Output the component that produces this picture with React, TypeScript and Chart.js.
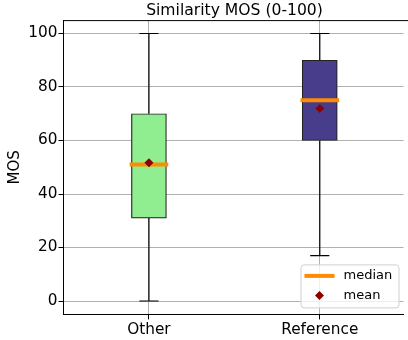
import { useEffect, useRef } from 'react';
import { Chart, registerables } from 'chart.js';
Chart.register(...registerables);

const categories = ['Other', 'Reference'];
const positions = [1, 2];
const whiskerLow = [0, 17];
const q1 = [31, 60];
const medians = [51, 75];
const q3 = [70, 90];
const whiskerHigh = [100, 100];
const means = [51.7, 72];
const yTicks = [0, 20, 40, 60, 80, 100];
const titleText = 'Similarity MOS (0-100)';
const yTitle = 'MOS';
const legendLabels = ['median', 'mean'];

const boxColors = ['#90EE90', '#483D8B'];
const medianColor = '#FF8C00';
const meanColor = '#8B0000';
const FONT = "'DejaVu Sans', sans-serif";

const overlay = {
  id: 'overlay',
  afterDraw(chart: any) {
    const { ctx, chartArea } = chart;
    ctx.save();
    // frame
    ctx.strokeStyle = '#000';
    ctx.lineWidth = 1;
    ctx.beginPath();
    ctx.moveTo(chartArea.left, chartArea.top + 0.5);
    ctx.lineTo(chartArea.right + 5, chartArea.top + 0.5);
    ctx.stroke();
    // title
    ctx.fillStyle = '#000';
    ctx.font = `15.6px ${FONT}`;
    ctx.textAlign = 'center';
    ctx.textBaseline = 'middle';
    ctx.fillText(titleText, (chartArea.left + chartArea.right) / 2 + 1, 10.5);
    // y title
    ctx.save();
    ctx.translate(15, (chartArea.top + chartArea.bottom) / 2);
    ctx.rotate(-Math.PI / 2);
    ctx.font = `15px ${FONT}`;
    ctx.fillText(yTitle, 0, 0);
    ctx.restore();
    // legend
    const lx = chartArea.right - 103;
    const ly = chartArea.bottom - 50;
    const lw = 98;
    const lh = 43;
    ctx.beginPath();
    if (ctx.roundRect) ctx.roundRect(lx + 0.5, ly + 0.5, lw, lh, 3);
    else ctx.rect(lx + 0.5, ly + 0.5, lw, lh);
    ctx.fillStyle = 'rgba(255,255,255,0.8)';
    ctx.fill();
    ctx.strokeStyle = '#d0d0d0';
    ctx.lineWidth = 1;
    ctx.stroke();
    ctx.strokeStyle = medianColor;
    ctx.lineWidth = 4;
    ctx.beginPath();
    ctx.moveTo(lx + 4, ly + 11.5);
    ctx.lineTo(lx + 34, ly + 11.5);
    ctx.stroke();
    ctx.fillStyle = meanColor;
    const dx = lx + 19;
    const dy = ly + 31;
    ctx.beginPath();
    ctx.moveTo(dx, dy - 4.5);
    ctx.lineTo(dx + 4.5, dy);
    ctx.lineTo(dx, dy + 4.5);
    ctx.lineTo(dx - 4.5, dy);
    ctx.closePath();
    ctx.fill();
    ctx.fillStyle = '#000';
    ctx.font = `13px ${FONT}`;
    ctx.textAlign = 'left';
    ctx.textBaseline = 'middle';
    ctx.fillText(legendLabels[0], lx + 43, ly + 11.5);
    ctx.fillText(legendLabels[1], lx + 43, ly + 31);
    ctx.restore();
  },
};

export default function App() {
  const ref = useRef<HTMLCanvasElement>(null);
  useEffect(() => {
    document.body.style.margin = '0';
    const seg = (x1: number, y1: number, x2: number, y2: number, color: string, width: number, order: number) => ({
      type: 'line',
      data: [
        { x: x1, y: y1 },
        { x: x2, y: y2 },
      ],
      borderColor: color,
      borderWidth: width,
      pointRadius: 0,
      borderCapStyle: 'butt',
      fill: false,
      order,
    });
    const datasets: any[] = [
      {
        type: 'bar',
        data: positions.map((x, i) => ({ x, y: [q1[i], q3[i]] })),
        backgroundColor: boxColors,
        borderColor: '#222',
        borderWidth: 1.2,
        borderSkipped: false,
        barThickness: 35,
        order: 5,
      },
      ...positions.flatMap((x, i) => [
        seg(x, whiskerLow[i], x, q1[i], '#000', 1.2, 4),
        seg(x, q3[i], x, whiskerHigh[i], '#000', 1.2, 4),
        seg(x - 0.056, whiskerLow[i], x + 0.056, whiskerLow[i], '#000', 1.2, 4),
        seg(x - 0.056, whiskerHigh[i], x + 0.056, whiskerHigh[i], '#000', 1.2, 4),
        seg(x - 0.113, medians[i], x + 0.113, medians[i], medianColor, 4, 1),
      ]),
      {
        type: 'scatter',
        data: positions.map((x, i) => ({ x, y: means[i] })),
        pointStyle: 'rectRot',
        pointRadius: 4.5,
        backgroundColor: meanColor,
        borderColor: meanColor,
        borderWidth: 0,
        order: 0,
      },
    ];
    const chart = new Chart(ref.current!, {
      type: 'bar',
      data: { datasets },
      options: {
        animation: false,
        responsive: false,
        maintainAspectRatio: false,
        layout: { padding: { top: 20.1, right: 0, left: 0, bottom: 0 } },
        plugins: { legend: { display: false }, tooltip: { enabled: false }, title: { display: false } },
        scales: {
          x: {
            type: 'linear',
            min: 0.5,
            max: 2.49,
            offset: false,
            afterBuildTicks: (s: any) => {
              s.ticks = positions.map((v) => ({ value: v }));
            },
            afterFit: (s: any) => {
              s.height = 25.6;
            },
            ticks: {
              callback: (v: any) => {
                const i = positions.indexOf(Number(v));
                return i >= 0 ? categories[i] : '';
              },
              font: { family: FONT, size: 15.3 },
              color: '#000',
              padding: 1,
              maxRotation: 0,
              autoSkip: false,
            },
            grid: { offset: false, color: '#b0b0b0', lineWidth: 1, tickLength: 5, tickColor: '#000', drawTicks: true },
            border: { display: true, color: '#000', width: 1 },
          },
          y: {
            type: 'linear',
            min: -5,
            max: 105,
            afterBuildTicks: (s: any) => {
              s.ticks = yTicks.map((v) => ({ value: v }));
            },
            afterFit: (s: any) => {
              s.width = 63.5;
            },
            ticks: {
              font: { family: FONT, size: 15.3 },
              color: '#000',
              padding: 1,
            },
            grid: { color: '#b0b0b0', lineWidth: 1, tickLength: 5, tickColor: '#000', drawTicks: true },
            border: { display: true, color: '#000', width: 1 },
          },
        },
      } as any,
      plugins: [overlay],
    } as any);
    return () => chart.destroy();
  }, []);
  return (
    <div style={{ position: 'fixed', left: 0, top: 0, width: 408, height: 340 }}>
      <canvas ref={ref} width={408} height={340} style={{ width: 408, height: 340, display: 'block' }} />
    </div>
  );
}
